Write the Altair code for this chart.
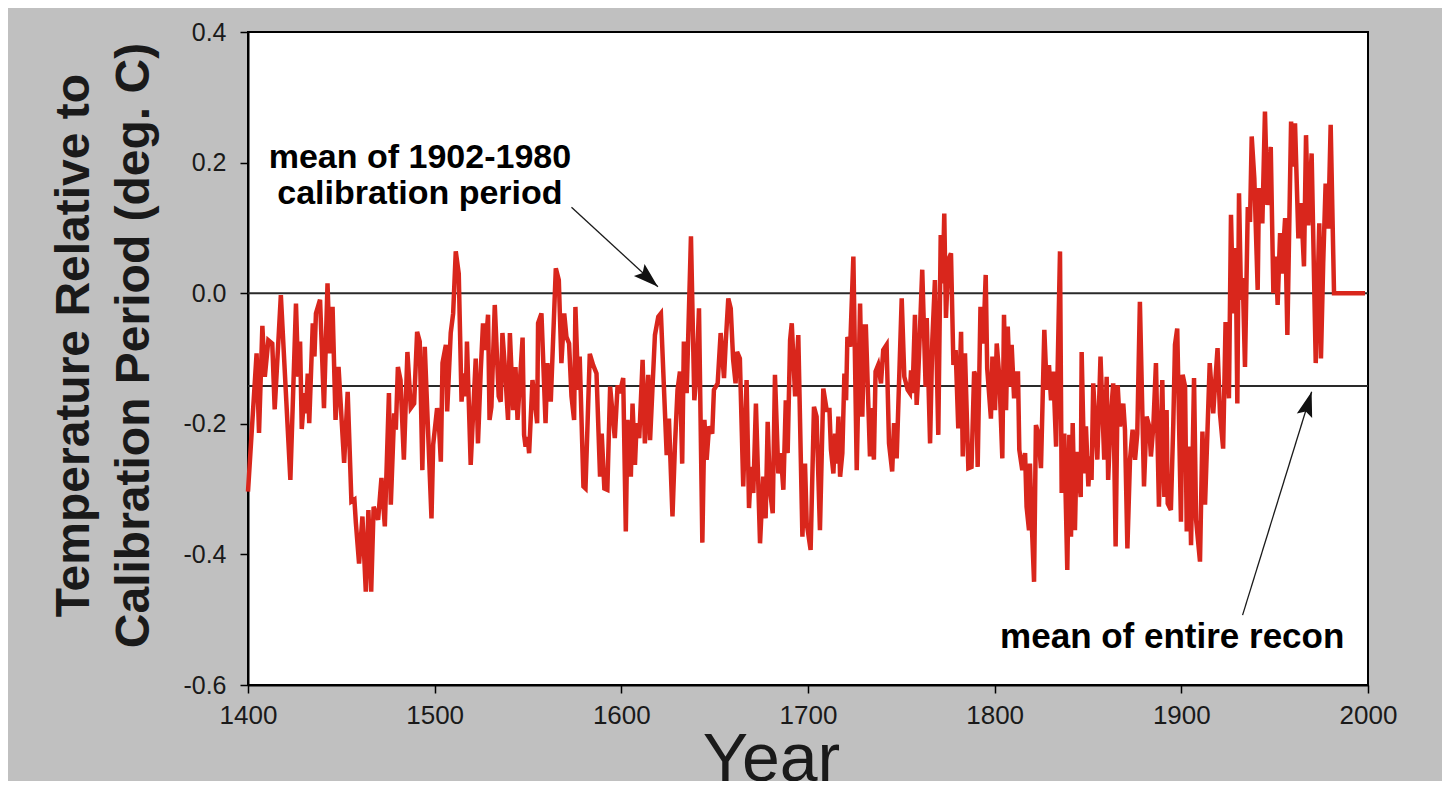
import altair as alt
import pandas as pd

# ---- data ----
years = [
    1400, 1404.6, 1405.9, 1407.7, 1409, 1410.9, 1413, 1414.3, 1417.6, 1422.7,
    1425.7, 1426.9, 1427.9, 1428.8, 1430.2, 1431, 1432, 1432.8, 1434.7, 1435.6,
    1436.4, 1438.6, 1440.7, 1442.6, 1443.8, 1445.3, 1446.9, 1448.5, 1451.5, 1453.4,
    1455.4, 1457, 1457.8, 1459.5, 1461.3, 1463.1, 1464.5, 1466, 1467.3, 1469.7,
    1471.5, 1473.3, 1475.5, 1476.5, 1478.3, 1479.2, 1480.3, 1481.7, 1483.5, 1485.4,
    1487.2, 1489, 1490.6, 1492, 1493.4, 1494.7, 1498.3, 1499.2, 1501.3, 1502.2,
    1503.3, 1504.2, 1506, 1506.7, 1508.6, 1509.9, 1511.3, 1512.9, 1514.4, 1515.6,
    1516.7, 1517.3, 1519.3, 1522, 1523.2, 1524.7, 1525.9, 1527.2, 1528.6, 1529.4,
    1530.4, 1532.2, 1534.3, 1535.4, 1536.3, 1537.6, 1539.3, 1540.3, 1542, 1543.3,
    1544.4, 1547.1, 1547.9, 1548.7, 1549.8, 1550.6, 1552.4, 1553.6, 1554.9, 1555.4,
    1557.2, 1559.4, 1560.4, 1562.2, 1564.9, 1566.5, 1567.9, 1569.4, 1570.6, 1572,
    1573.3, 1574.7, 1575.4, 1576.9, 1577.7, 1579.7, 1580.8, 1583.1, 1584.9, 1586.7,
    1588.6, 1589.5, 1590.9, 1592.5, 1594, 1596.5, 1598, 1599.2, 1601, 1602.4,
    1603.3, 1605.1, 1606, 1607.3, 1608.2, 1609.6, 1611.4, 1612.6, 1614.4, 1615.4,
    1618, 1619.8, 1621.2, 1624.3, 1625.5, 1627.4, 1628.7, 1630.1, 1631.4, 1632.6,
    1633.5, 1635, 1637.3, 1639.1, 1640.3, 1641.6, 1643.4, 1644.5, 1645.7, 1647,
    1648.7, 1649.6, 1651.6, 1653.2, 1655, 1655.9, 1657.3, 1658.6, 1659.9, 1661.2,
    1662, 1663.5, 1665.3, 1667.1, 1668.4, 1669.5, 1670.7, 1672.1, 1674.3, 1676,
    1677.3, 1678.4, 1679.6, 1681.1, 1682.3, 1684.1, 1685.4, 1686.8, 1688.1, 1689.1,
    1690.4, 1691.3, 1693.1, 1694.8, 1697, 1698.4, 1699.3, 1701.4, 1703.2, 1704.6,
    1706.4, 1708.2, 1710, 1711.5, 1712.3, 1713.6, 1714.5, 1715.4, 1716.3, 1717.2,
    1718.4, 1719.5, 1720.4, 1721.1, 1722.6, 1724.3, 1726.1, 1727.9, 1729.1, 1730.2,
    1731, 1733.2, 1734, 1735.3, 1736.2, 1737.6, 1739.1, 1740.3, 1742.1, 1743.4,
    1745.1, 1746.1, 1747.5, 1750.2, 1751.6, 1753.4, 1754.6, 1755.2, 1756, 1757.3,
    1758.2, 1759, 1761.2, 1763, 1763.6, 1765.4, 1766.6, 1768, 1769.8, 1771.1,
    1772.2, 1773, 1773.9, 1775.2, 1776.6, 1777.9, 1779.1, 1780.5, 1782, 1782.9,
    1784.1, 1785.9, 1787.6, 1789, 1790, 1790.9, 1792.4, 1793.9, 1795.2, 1796,
    1798, 1798.8, 1800.2, 1801.1, 1802.5, 1804.1, 1805, 1806.1, 1807, 1808.2,
    1809.1, 1810.4, 1811.4, 1812.5, 1813.2, 1814.8, 1816.3, 1817.1, 1818.4, 1818.9,
    1819.8, 1821.1, 1822.1, 1823.4, 1824.8, 1826.6, 1827.9, 1829.1, 1830.2, 1831.4,
    1832.9, 1835, 1835.9, 1837.3, 1838.9, 1840, 1840.9, 1841.8, 1843, 1843.9,
    1846.1, 1846.6, 1848, 1848.9, 1850.2, 1851, 1851.9, 1852.8, 1855, 1856.7,
    1858.7, 1860, 1860.8, 1862.1, 1863.5, 1864.8, 1865.9, 1867.1, 1868.9, 1869.8,
    1871.1, 1872.5, 1873.9, 1875.2, 1876.4, 1877.8, 1880, 1881.4, 1882.8, 1883.7,
    1885, 1886.4, 1888, 1889.8, 1890.9, 1892.1, 1892.7, 1894.4, 1895.7, 1896.6,
    1897.8, 1899.8, 1900.7, 1902, 1902.9, 1904.3, 1905.2, 1906.8, 1907.9, 1910,
    1911.3, 1912.7, 1915.2, 1917.1, 1918, 1919.4, 1920.7, 1922.4, 1923.7, 1925.5,
    1926.6, 1927.8, 1929.1, 1930, 1930.9, 1932, 1932.9, 1934.1, 1935.6, 1936.8,
    1937.7, 1939.1, 1940.9, 1941.6, 1943.4, 1944.8, 1946.1, 1947.9, 1949.3, 1950.6,
    1951.6, 1952.9, 1953.8, 1955.6, 1956.8, 1958.8, 1959.7, 1960.9, 1962.7, 1964.1,
    1965.7, 1966.8, 1968, 1969.8, 1972, 1973.9, 1974.8, 1976, 1977.3, 1978.7,
    1980, 1981.8, 1998.4,
]
temps = [
    -0.304, -0.092, -0.214, -0.050, -0.128, -0.072, -0.077, -0.178, -0.003, -0.286,
    -0.016, -0.128, -0.074, -0.208, -0.153, -0.184, -0.123, -0.199, -0.046, -0.097,
    -0.031, -0.010, -0.176, 0.015, -0.092, -0.021, -0.194, -0.113, -0.260, -0.151,
    -0.319, -0.316, -0.352, -0.414, -0.342, -0.457, -0.332, -0.457, -0.327, -0.347,
    -0.283, -0.357, -0.153, -0.324, -0.184, -0.209, -0.113, -0.133, -0.255, -0.090,
    -0.176, -0.169, -0.059, -0.074, -0.271, -0.082, -0.345, -0.232, -0.176, -0.197,
    -0.258, -0.107, -0.079, -0.181, -0.061, -0.031, 0.064, 0.030, -0.166, -0.123,
    -0.158, -0.074, -0.263, -0.100, -0.230, -0.118, -0.046, -0.087, -0.033, -0.194,
    -0.174, -0.018, -0.158, -0.166, -0.061, -0.113, -0.194, -0.061, -0.179, -0.113,
    -0.194, -0.068, -0.217, -0.235, -0.220, -0.245, -0.133, -0.164, -0.199, -0.046,
    -0.031, -0.199, -0.107, -0.166, 0.038, 0.020, -0.107, -0.031, -0.067, -0.077,
    -0.158, -0.194, -0.021, -0.148, -0.097, -0.296, -0.299, -0.093, -0.110, -0.123,
    -0.281, -0.215, -0.299, -0.301, -0.143, -0.222, -0.141, -0.153, -0.130, -0.365,
    -0.194, -0.281, -0.169, -0.263, -0.199, -0.222, -0.102, -0.230, -0.125, -0.225,
    -0.064, -0.036, -0.031, -0.248, -0.192, -0.342, -0.235, -0.148, -0.120, -0.261,
    -0.074, -0.153, 0.087, -0.164, -0.123, -0.023, -0.382, -0.194, -0.255, -0.204,
    -0.215, -0.148, -0.138, -0.061, -0.130, -0.077, -0.008, -0.023, -0.102, -0.138,
    -0.090, -0.100, -0.296, -0.133, -0.329, -0.266, -0.306, -0.169, -0.383, -0.281,
    -0.345, -0.197, -0.301, -0.337, -0.125, -0.276, -0.245, -0.301, -0.164, -0.245,
    -0.072, -0.046, -0.158, -0.064, -0.373, -0.261, -0.352, -0.393, -0.174, -0.189,
    -0.363, -0.146, -0.179, -0.179, -0.240, -0.276, -0.215, -0.261, -0.189, -0.281,
    -0.245, -0.123, -0.164, -0.067, -0.082, 0.056, -0.271, -0.016, -0.189, -0.051,
    -0.051, -0.250, -0.176, -0.255, -0.120, -0.110, -0.138, -0.087, -0.079, -0.230,
    -0.273, -0.199, -0.253, -0.008, -0.128, -0.148, -0.153, -0.118, -0.153, -0.033,
    -0.171, -0.130, 0.036, -0.143, -0.038, -0.230, -0.072, 0.020, -0.217, 0.089,
    0.015, 0.122, -0.038, 0.051, 0.061, -0.110, -0.087, -0.207, -0.059, -0.250,
    -0.092, -0.268, -0.266, -0.120, -0.128, -0.266, -0.021, -0.077, 0.028, -0.115,
    -0.192, -0.097, -0.179, -0.077, -0.128, -0.253, -0.033, -0.179, -0.051, -0.143,
    -0.079, -0.161, -0.123, -0.123, -0.240, -0.271, -0.245, -0.327, -0.363, -0.261,
    -0.347, -0.442, -0.202, -0.215, -0.268, -0.056, -0.148, -0.110, -0.164, -0.120,
    -0.235, 0.064, -0.306, -0.215, -0.424, -0.217, -0.373, -0.199, -0.363, -0.243,
    -0.312, -0.090, -0.276, -0.204, -0.296, -0.250, -0.286, -0.138, -0.255, -0.097,
    -0.255, -0.128, -0.286, -0.194, -0.138, -0.388, -0.141, -0.204, -0.169, -0.209,
    -0.391, -0.255, -0.209, -0.255, -0.215, -0.013, -0.296, -0.189, -0.204, -0.250,
    -0.204, -0.107, -0.327, -0.133, -0.312, -0.179, -0.322, -0.332, -0.199, -0.079,
    -0.054, -0.350, -0.125, -0.143, -0.365, -0.235, -0.386, -0.130, -0.347, -0.411,
    -0.212, -0.324, -0.107, -0.184, -0.143, -0.084, -0.184, -0.238, -0.044, -0.161,
    0.120, -0.031, 0.069, -0.169, 0.153, -0.010, 0.023, -0.113, 0.132, 0.109,
    0.240, 0.176, 0.005, 0.161, 0.107, 0.278, 0.135, 0.224, 0.000, 0.056,
    -0.018, 0.092, 0.030, 0.115, -0.064, 0.263, 0.194, 0.260, 0.084, 0.138,
    0.041, 0.242, 0.104, 0.214, -0.107, 0.107, -0.100, 0.046, 0.168, 0.099,
    0.258, 0.000, 0.000,
]

ref_levels = [0.0, -0.142]

# annotations (text and arrows)
label_text = ["mean of 1902-1980\ncalibration period", "mean of entire recon"]
label_year = [1492.1, 1802.9]
label_value = [0.192, -0.543]
label_align = ["center", "left"]

arrow_from_year = [1573.3, 1932.8]
arrow_from_value = [0.1315, -0.493]
arrow_to_year = [1619.6, 1969.8]
arrow_to_value = [0.010, -0.151]
arrow_angle = [131.6, 16.6]

y_ticks = [-0.6, -0.4, -0.2, 0.0, 0.2, 0.4]
x_ticks = [1400, 1500, 1600, 1700, 1800, 1900, 2000]

series = pd.DataFrame({"year": years, "temp": temps})
refs = pd.DataFrame({"level": ref_levels})
labels = pd.DataFrame({"text": label_text, "year": label_year,
                       "value": label_value, "align": label_align})
arrows = pd.DataFrame({"y0": arrow_from_year, "v0": arrow_from_value,
                       "y1": arrow_to_year, "v1": arrow_to_value,
                       "ang": arrow_angle})

xscale = alt.Scale(domain=[1400, 2000], nice=False, zero=False)
yscale = alt.Scale(domain=[-0.6, 0.4], nice=False, zero=False)

x_axis = alt.Axis(
    values=x_ticks, format="d", title="Year", labelFlush=False,
    labelFontSize=26, labelPadding=9, tickSize=8,
    titleFontSize=68, titleFontWeight="normal",
    titleX=523, titleY=95, titleBaseline="alphabetic", titleAlign="center",
)
y_axis = alt.Axis(
    values=y_ticks,
    labelExpr="datum.value < -0.001 ? '-' + format(-datum.value, '.1f') : format(abs(datum.value), '.1f')",
    title=["Temperature Relative to", "Calibration Period (deg. C)"],
    labelFontSize=25, labelPadding=14, tickSize=8, labelFlush=False,
    titleFontSize=48, titleFontWeight="bold", titleLineHeight=60,
    titleAngle=-90, titleX=-160, titleY=313, titleAlign="center",
    titleBaseline="alphabetic",
)

base_x = alt.X("year:Q", scale=xscale, axis=x_axis)
base_y = alt.Y("temp:Q", scale=yscale, axis=y_axis)

line = alt.Chart(series).mark_line(
    color="#d9261c", strokeWidth=4.5, strokeJoin="miter", strokeMiterLimit=4
).encode(x=base_x, y=base_y)

ref_rules = alt.Chart(refs).mark_rule(color="#2a2a2a", strokeWidth=2).encode(
    y=alt.Y("level:Q", scale=yscale)
)

arrow_lines = alt.Chart(arrows).mark_rule(color="#1a1a1a", strokeWidth=1.3).encode(
    x=alt.X("y0:Q", scale=xscale), y=alt.Y("v0:Q", scale=yscale),
    x2="y1:Q", y2="v1:Q",
)

arrow_heads = alt.Chart(arrows).mark_point(
    shape="M0,0L-0.32,1L0,0.82L0.32,1Z", filled=True, opacity=1,
    color="#111111", size=2500, strokeWidth=0,
).encode(
    x=alt.X("y1:Q", scale=xscale), y=alt.Y("v1:Q", scale=yscale),
    angle=alt.Angle("ang:Q", scale=None),
)

label_center = alt.Chart(labels[labels["align"] == "center"]).mark_text(
    font="Liberation Sans", fontWeight="bold", fontSize=34, align="center",
    baseline="alphabetic", lineBreak="\n", lineHeight=36, color="#000000",
).encode(
    x=alt.X("year:Q", scale=xscale), y=alt.Y("value:Q", scale=yscale), text="text:N"
)
label_left = alt.Chart(labels[labels["align"] == "left"]).mark_text(
    font="Liberation Sans", fontWeight="bold", fontSize=35, align="left",
    baseline="alphabetic", color="#000000",
).encode(
    x=alt.X("year:Q", scale=xscale), y=alt.Y("value:Q", scale=yscale), text="text:N"
)

chart = alt.layer(
    ref_rules, line, arrow_lines, arrow_heads, label_center, label_left
).properties(
    width=1120, height=653,
    autosize=alt.AutoSizeParams(type="none"),
    padding={"left": 240, "top": 24, "right": 74, "bottom": 96},
    background="#c0c0c0",
).configure_view(
    fill="#ffffff", stroke="#000000", strokeWidth=2
).configure_axis(
    grid=False, domain=True, domainColor="#000000", domainWidth=2,
    tickColor="#000000", tickWidth=1.5,
    labelFont="Liberation Sans", labelColor="#1a1a1a",
    titleFont="Liberation Sans", titleColor="#1a1a1a",
)

chart.save("out.html", embed_options={"renderer": "svg", "actions": False})
